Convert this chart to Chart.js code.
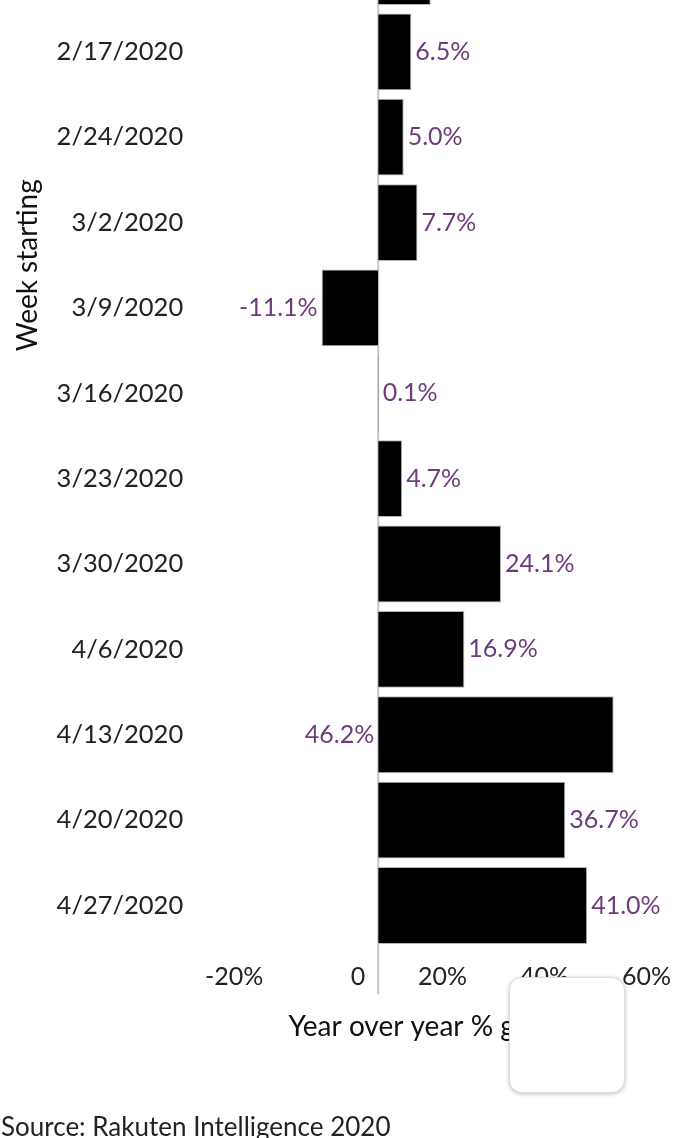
<!DOCTYPE html>
<html>
<head>
<meta charset="utf-8">
<script src="https://cdn.jsdelivr.net/npm/chart.js@4"></script>
<style>
  html, body { margin: 0; padding: 0; background: #fff; overflow: hidden; width: 700px; height: 1138px; }
  #wrap { position: absolute; left: 0; top: -442px; width: 700px; height: 1585px; }
  #popup {
    position: absolute; left: 509px; top: 977px; width: 116px; height: 116px;
    background: #fff; border-radius: 13px; border: 1px solid #ddd;
    box-shadow: 0 1px 4px rgba(0,0,0,0.25); box-sizing: border-box;
  }
</style>
</head>
<body>
<div id="wrap"><canvas id="chart"></canvas></div>
<div id="popup"></div>
<script>
// --- Data ---
const weeks = ['1/13/2020', '1/20/2020', '1/27/2020', '2/3/2020', '2/10/2020', '2/17/2020', '2/24/2020',
    '3/2/2020', '3/9/2020', '3/16/2020', '3/23/2020', '3/30/2020', '4/6/2020', '4/13/2020', '4/20/2020', '4/27/2020'];
// first weeks are scrolled out of view in the screenshot, so their values are unknown
const growth = [null, null, null, null, 10.3, 6.5, 5.0, 7.7, -11.1, 0.1, 4.7, 24.1, 16.9, 46.2, 36.7, 41.0];
const xTicks = [-20, 0, 20, 40, 60];

Chart.defaults.font.family = 'Lato';
Chart.defaults.color = '#222';

// grey zero line, runs a bit past the plot into the tick row
const zeroLine = {
    id: 'zeroLine',
    beforeDatasetsDraw(chart) {
        const { ctx, chartArea } = chart;
        const x0 = chart.scales.x.getPixelForValue(0);
        ctx.save();
        ctx.strokeStyle = '#c8c8c8';
        ctx.lineWidth = 2;
        ctx.beginPath();
        ctx.moveTo(x0, chartArea.top);
        ctx.lineTo(x0, chartArea.bottom + 46);
        ctx.stroke();
        ctx.restore();
    }
};

// purple value labels next to each bar
const valueLabels = {
    id: 'valueLabels',
    afterDatasetsDraw(chart) {
        const { ctx, chartArea } = chart;
        const meta = chart.getDatasetMeta(0);
        ctx.save();
        ctx.font = '25px Lato';
        ctx.fillStyle = '#6d3c7b';
        ctx.textBaseline = 'middle';
        meta.data.forEach((bar, i) => {
            const v = growth[i];
            if (v === null) return;
            const text = v.toFixed(1) + '%';
            const w = ctx.measureText(text).width;
            let x;
            if (v < 0) {
                x = bar.x - 4; ctx.textAlign = 'right';
            } else if (bar.x + 4 + w > chartArea.right) {
                x = bar.base - 4; ctx.textAlign = 'right';
            } else {
                x = bar.x + 4; ctx.textAlign = 'left';
            }
            ctx.fillText(text, x, bar.y);
        });
        ctx.restore();
    }
};

new Chart(document.getElementById('chart'), {
    type: 'bar',
    data: {
        labels: weeks,
        datasets: [{
            data: growth,
            backgroundColor: '#000',
            borderColor: '#b4b4b4',
            borderWidth: 1,
            barPercentage: 0.9,
            categoryPercentage: 1.0
        }]
    },
    options: {
        indexAxis: 'y',
        responsive: true,
        maintainAspectRatio: false,
        animation: false,
        layout: { padding: { top: 0, right: 16, bottom: 0, left: 1 } },
        plugins: {
            legend: { display: false },
            tooltip: { enabled: false },
            subtitle: {
                display: true,
                position: 'bottom',
                align: 'start',
                text: 'Source: Rakuten Intelligence 2020',
                color: '#222',
                font: { size: 26, weight: 'normal' },
                padding: { top: 68, bottom: 0 }
            }
        },
        scales: {
            x: {
                min: -36.5,
                max: 60,
                afterBuildTicks: scale => { scale.ticks = xTicks.map(v => ({ value: v })); },
                grid: { display: false, drawTicks: false },
                border: { display: false },
                ticks: {
                    align: 'end',
                    labelOffset: -13,
                    padding: 14,
                    color: '#222',
                    font: { size: 25 },
                    callback: v => v === 0 ? '0' : v + '%'
                },
                title: {
                    display: true,
                    text: 'Year over year % growth',
                    color: '#111',
                    font: { size: 28 },
                    padding: { top: 4, bottom: 0 }
                }
            },
            y: {
                grid: { display: false, drawTicks: false },
                border: { display: false },
                ticks: {
                    padding: 9,
                    color: '#222',
                    font: { size: 25.5 }
                },
                title: {
                    display: true,
                    text: 'Week starting',
                    color: '#111',
                    font: { size: 28 },
                    padding: { top: 10, bottom: 3 }
                }
            }
        }
    },
    plugins: [zeroLine, valueLabels]
});
</script>
</body>
</html>
